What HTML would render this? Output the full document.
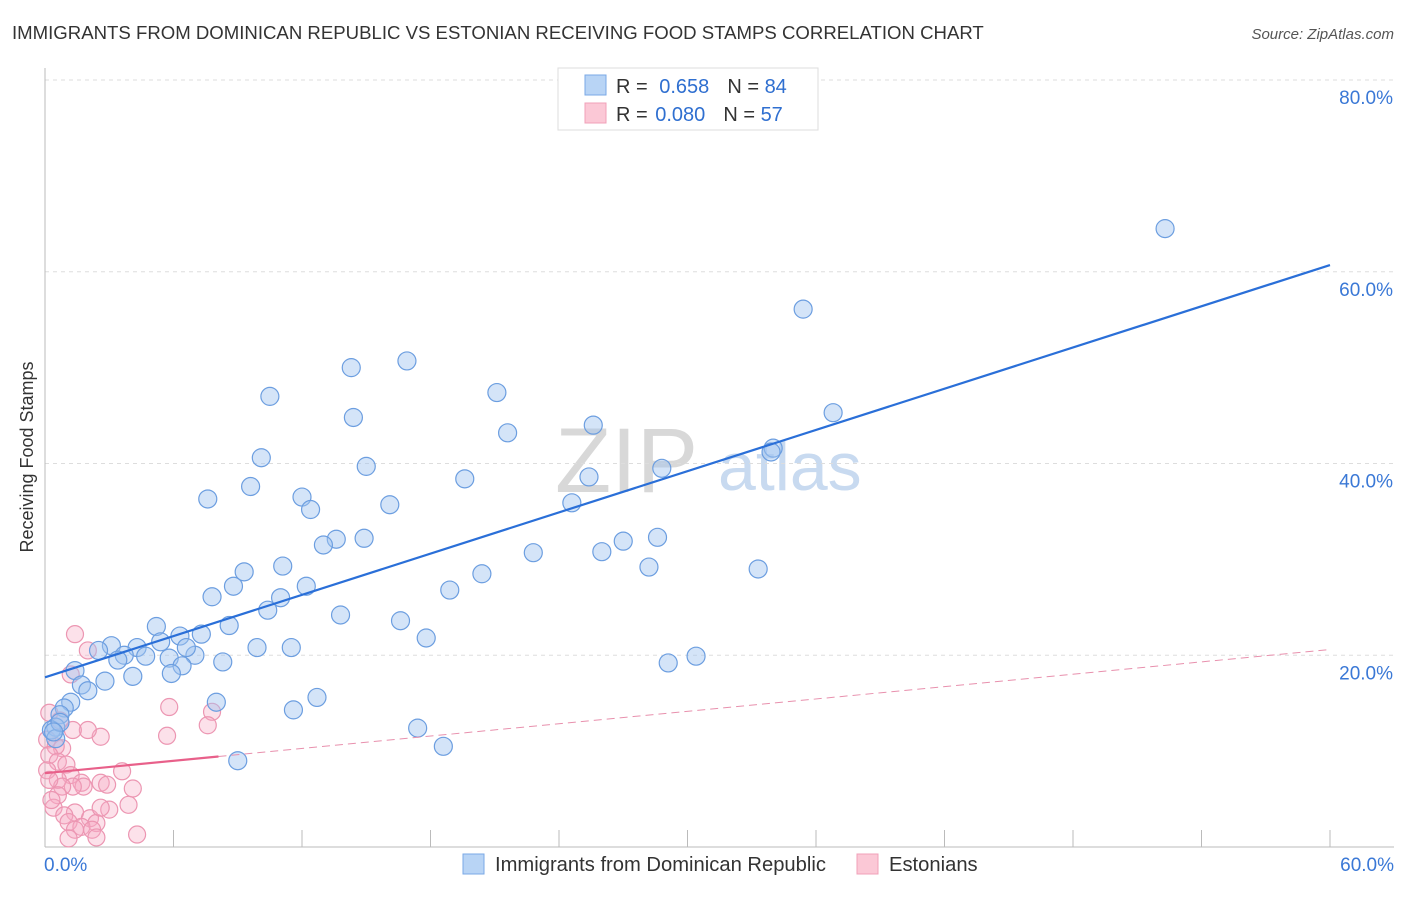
<!DOCTYPE html>
<html><head><meta charset="utf-8"><style>
body{margin:0;background:#fff;font-family:"Liberation Sans",sans-serif;}
svg text{font-family:"Liberation Sans",sans-serif;}
</style></head><body>
<svg id="chart" width="1406" height="892" xmlns="http://www.w3.org/2000/svg">
<text x="12" y="39" font-size="18.6" fill="#333">IMMIGRANTS FROM DOMINICAN REPUBLIC VS ESTONIAN RECEIVING FOOD STAMPS CORRELATION CHART</text>
<text x="1394" y="39" font-size="15" fill="#555" font-style="italic" text-anchor="end">Source: ZipAtlas.com</text>
<text x="33" y="457" font-size="18" fill="#333" text-anchor="middle" transform="rotate(-90 33 457)">Receiving Food Stamps</text>
<text x="555" y="492" font-size="92" fill="#d8d8d8" font-family="Liberation Serif">ZIP</text>
<text x="718" y="490" font-size="68" fill="#c8daf0">atlas</text>
<g id="grid"></g><g id="axes"></g><g id="pts"></g><g id="lines"></g>
<g>
<rect x="558" y="68" width="260" height="62" fill="#fff" stroke="#ddd"/>
<rect x="585" y="75" width="21" height="20" fill="#b8d4f5" stroke="#7aa8e6"/>
<rect x="585" y="103" width="21" height="20" fill="#fbc8d6" stroke="#f0a0b8"/>
<text x="616" y="93" font-size="20" fill="#333">R = <tspan fill="#2f6fd0" dx="6">0.658</tspan><tspan dx="18" fill="#333">N = </tspan><tspan fill="#2f6fd0">84</tspan></text>
<text x="616" y="121" font-size="20" fill="#333">R = <tspan fill="#2f6fd0" dx="2">0.080</tspan><tspan dx="18" fill="#333">N = </tspan><tspan fill="#2f6fd0">57</tspan></text>
</g>
<g>
<rect x="463" y="854" width="21" height="20" fill="#b8d4f5" stroke="#7aa8e6"/>
<text x="495" y="871" font-size="20.2" fill="#333">Immigrants from Dominican Republic</text>
<rect x="857" y="854" width="21" height="20" fill="#fbc8d6" stroke="#f0a0b8"/>
<text x="889" y="871" font-size="20.2" fill="#333">Estonians</text>
</g>
</svg>
<script>
const yTicks=[20,40,60,80];
const yTickLabels=["20.0%","40.0%","60.0%","80.0%"];
const xEnds=["0.0%","60.0%"];
const blueX=[52.3,35.4,16.9,14.3,10.5,21.1,14.4,21.6,25.6,36.8,34.0,33.9,10.1,15.0,28.8,19.6,25.4,9.6,7.6,12.0,12.4,16.1,24.6,13.6,13.0,14.9,28.6,27.0,22.8,26.0,11.1,28.2,33.3,9.3,20.4,8.8,12.2,18.9,7.8,11.0,10.4,13.8,16.6,8.6,5.2,6.3,7.3,17.8,9.9,11.5,3.1,5.4,4.3,2.5,3.7,4.7,3.4,5.8,7.0,6.6,8.3,6.4,30.4,29.1,5.9,1.4,4.1,2.8,1.7,2.0,12.7,8.0,1.2,11.6,0.9,0.7,0.5,0.3,17.4,18.6,9.0,0.5,0.7,0.4];
const blueY=[64.5,56.1,50.7,50.0,47.0,47.4,44.8,43.2,44.0,45.3,41.6,41.2,40.6,39.7,39.5,38.4,38.6,37.6,36.3,36.5,35.2,35.7,35.9,32.1,31.5,32.2,32.3,31.9,30.7,30.8,29.3,29.2,29.0,28.7,28.5,27.2,27.2,26.8,26.1,26.0,24.7,24.2,23.6,23.1,23.0,22.0,22.2,21.8,20.8,20.8,21.0,21.4,20.8,20.5,20.0,19.9,19.5,19.7,20.0,20.8,19.3,18.9,19.9,19.2,18.1,18.4,17.8,17.3,16.9,16.3,15.6,15.1,15.1,14.3,14.5,13.8,12.5,12.2,12.4,10.5,9.0,11.3,13.0,12.0];
const pinkX=[1.4,2.0,1.2,5.8,7.8,7.6,5.7,2.6,2.0,1.3,0.7,0.2,0.1,0.8,0.5,0.2,0.6,0.1,1.0,3.6,1.2,0.6,1.7,2.6,2.9,1.8,1.3,0.8,4.1,0.6,3.9,3.0,0.4,1.4,0.9,2.1,1.1,2.4,1.7,2.2,1.4,4.3,1.1,2.4,0.2,0.3,2.6];
const pinkY=[22.2,20.5,18.0,14.6,14.1,12.7,11.6,11.5,12.2,12.2,13.2,14.0,11.2,10.3,10.5,9.6,8.9,8.0,8.6,7.9,7.5,7.0,6.7,6.7,6.5,6.3,6.3,6.3,6.1,5.4,4.4,3.9,4.1,3.6,3.3,3.0,2.6,2.5,2.1,1.8,1.8,1.3,0.9,1.0,7.0,4.9,4.1];
const blueTrend=[17.7,60.7];
const pinkTrend=[7.7,20.6];
const pinkSolidEnd=8.1;

const X0=45,X1=1330,Y0=847,Y80=80;
const sx=v=>X0+(X1-X0)*v/60;
const sy=v=>Y0-(Y0-Y80)*v/80;
const NS="http://www.w3.org/2000/svg";
function mk(tag,attrs,parent){const e=document.createElementNS(NS,tag);for(const k in attrs)e.setAttribute(k,attrs[k]);document.getElementById(parent).appendChild(e);return e;}
yTicks.forEach((t,i)=>{
 const g=mk('line',{x1:X0,x2:1394,y1:sy(t),y2:sy(t),stroke:'#ddd','stroke-dasharray':'4,4'},'grid');
 
 
 const l=mk('text',{x:1393,y:sy(t)+24,'font-size':19,fill:'#3a78d6','text-anchor':'end'},'grid');
 l.textContent=yTickLabels[i];
 
 
});
let a=mk('line',{x1:X0,x2:X0,y1:68,y2:Y0,stroke:'#bbb'},'axes');


a=mk('line',{x1:X0,x2:1394,y1:Y0,y2:Y0,stroke:'#bbb'},'axes');


for(let i=1;i<=10;i++){
 const t=mk('line',{x1:sx(i*6),x2:sx(i*6),y1:Y0-17,y2:Y0,stroke:'#bbb'},'axes');
 
 
}
[[0,'start',44],[60,'end',1394]].forEach(([v,anc,x],i)=>{
 const l=mk('text',{x:x,y:871,'font-size':19,fill:'#3a78d6','text-anchor':anc},'axes');
 l.textContent=xEnds[i];
 
 
});
pinkX.forEach((x,i)=>{
 const c=mk('circle',{cx:sx(x),cy:sy(pinkY[i]),r:8.5,fill:'rgba(246,170,196,0.35)',stroke:'#ec96b2','stroke-width':1.2},'pts');
 
 
});
blueX.forEach((x,i)=>{
 const c=mk('circle',{cx:sx(x),cy:sy(blueY[i]),r:9,fill:'rgba(160,196,240,0.45)',stroke:'#6c9ee0','stroke-width':1.2},'pts');
 
 
});
let ln=mk('line',{x1:sx(0),y1:sy(blueTrend[0]),x2:sx(60),y2:sy(blueTrend[1]),stroke:'#2a6fd8','stroke-width':2.2},'lines');


const py=v=>pinkTrend[0]+(pinkTrend[1]-pinkTrend[0])*v/60;
ln=mk('line',{x1:sx(0),y1:sy(py(0)),x2:sx(pinkSolidEnd),y2:sy(py(pinkSolidEnd)),stroke:'#e8608a','stroke-width':2.2},'lines');


ln=mk('line',{x1:sx(pinkSolidEnd),y1:sy(py(pinkSolidEnd)),x2:sx(60),y2:sy(py(60)),stroke:'#e890ad','stroke-width':1,'stroke-dasharray':'8,5'},'lines');


</script>
</body></html>
